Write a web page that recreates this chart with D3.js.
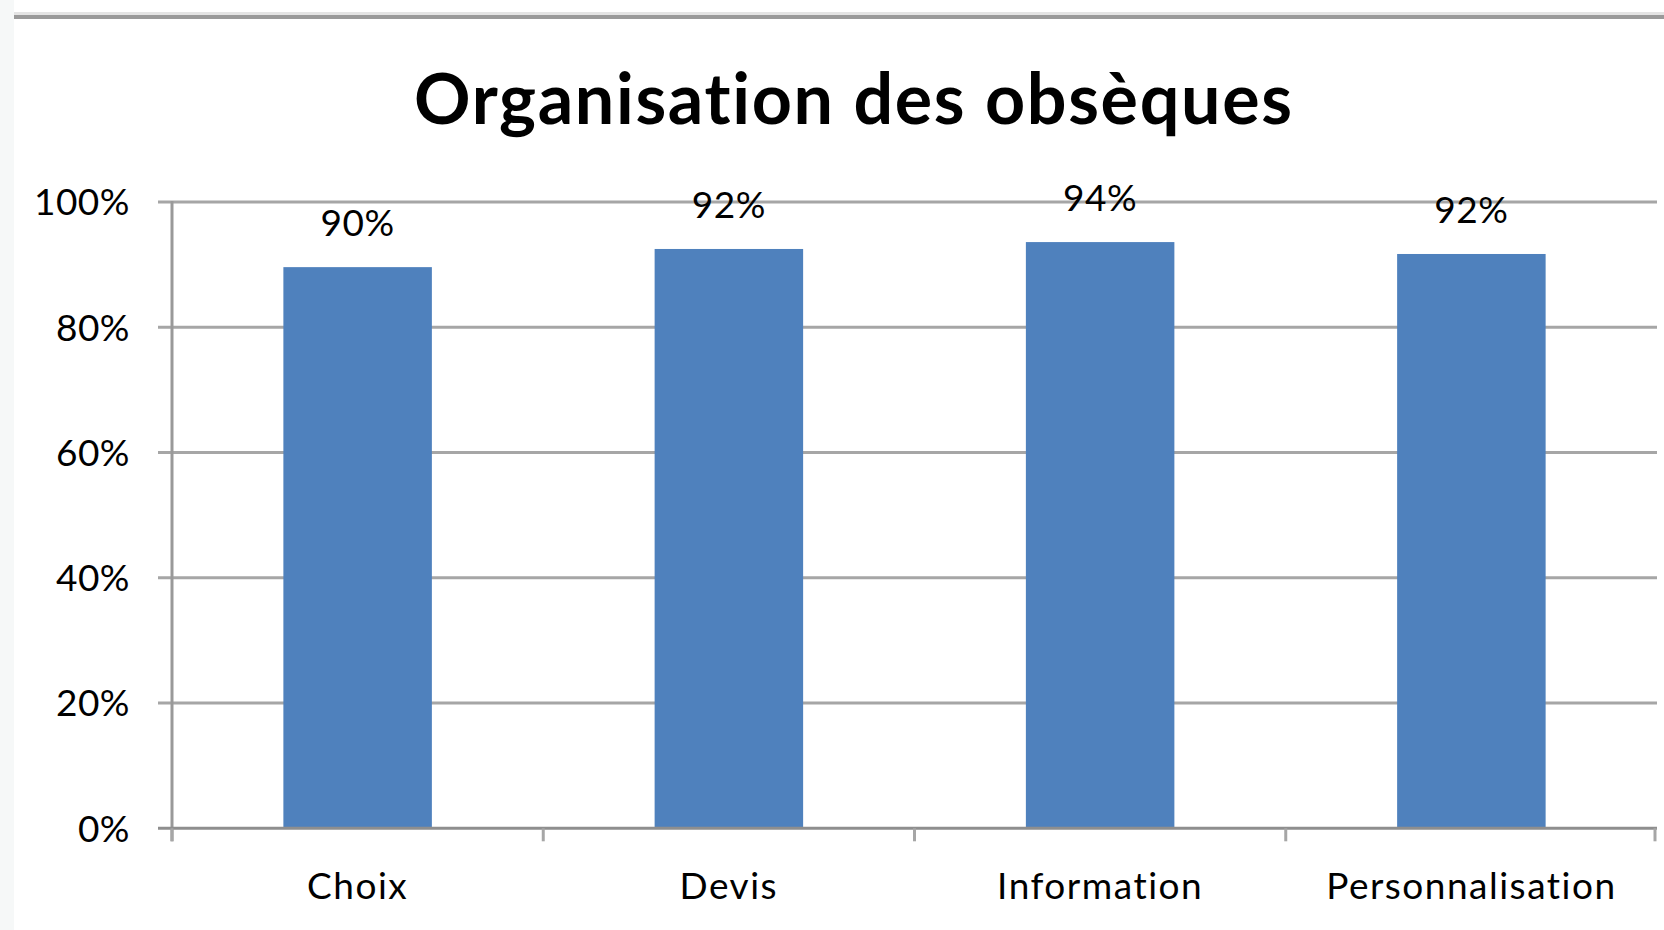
<!DOCTYPE html>
<html>
<head>
<meta charset="utf-8">
<script src="https://cdn.jsdelivr.net/npm/d3@7"></script>
<style>
    html, body { margin: 0; padding: 0; background: #fff; }
    svg { display: block; }
    text { font-family: Lato, "Open Sans", sans-serif; fill: #000; font-variant-ligatures: none; }
</style>
</head>
<body>
<div id="chart"></div>
<script>
var TITLE = "Organisation des obsèques";
var categories = ["Choix", "Devis", "Information", "Personnalisation"];
var values = [0.896, 0.925, 0.936, 0.917];
var valueLabels = ["90%", "92%", "94%", "92%"];
var yTicks = [0, 0.2, 0.4, 0.6, 0.8, 1.0];

var WIDTH = 1664,
    HEIGHT = 930,
    LEFT = 172,
    RIGHT = 1657,
    TOP = 202,
    BOTTOM = 828.3,
    FONT_SIZE = 37;

var svg = d3.select("#chart")
    .append("svg")
    .attr("width", WIDTH)
    .attr("height", HEIGHT);

// Frame left over from the original screenshot.
svg.append("rect").attr("x", 0).attr("y", 0).attr("width", 14).attr("height", HEIGHT).attr("fill", "#f6f8f8");
svg.append("rect").attr("x", 14).attr("y", 12).attr("width", WIDTH - 14).attr("height", 3).attr("fill", "#e4e4e4");
svg.append("rect").attr("x", 14).attr("y", 15).attr("width", WIDTH - 14).attr("height", 4).attr("fill", "#9a9a9a");

var x = d3.scaleBand()
    .domain(categories)
    .range([LEFT, RIGHT])
    .paddingInner(0.6)
    .paddingOuter(0.3);

var y = d3.scaleLinear()
    .domain([0, 1])
    .range([BOTTOM, TOP]);

var pct = d3.format(".0%");

// Gridlines
svg.append("g")
    .selectAll("line")
    .data(yTicks.filter(function(d) { return d > 0; }))
    .enter()
    .append("line")
    .attr("x1", LEFT - 14)
    .attr("x2", RIGHT)
    .attr("y1", function(d) { return y(d); })
    .attr("y2", function(d) { return y(d); })
    .attr("stroke", "#a6a6a6")
    .attr("stroke-width", 3);

// Y tick labels
svg.append("g")
    .selectAll("text")
    .data(yTicks)
    .enter()
    .append("text")
    .attr("x", 130)
    .attr("y", function(d) { return y(d); })
    .attr("dy", "0.36em")
    .attr("text-anchor", "end")
    .style("font-size", FONT_SIZE + "px")
    .style("letter-spacing", "0.5px")
    .text(pct);

// Bars
svg.append("g")
    .selectAll("rect")
    .data(values)
    .enter()
    .append("rect")
    .attr("x", function(d, i) { return x(categories[i]); })
    .attr("y", function(d) { return y(d); })
    .attr("width", x.bandwidth())
    .attr("height", function(d) { return y(0) - y(d); })
    .attr("fill", "#4f81bd");

// Axes
svg.append("line")
    .attr("x1", LEFT).attr("x2", LEFT)
    .attr("y1", TOP - 1).attr("y2", BOTTOM + 13)
    .attr("stroke", "#999").attr("stroke-width", 3);

svg.append("line")
    .attr("x1", LEFT - 14).attr("x2", RIGHT)
    .attr("y1", BOTTOM).attr("y2", BOTTOM)
    .attr("stroke", "#8e8e8e").attr("stroke-width", 3);

svg.append("g")
    .selectAll("line")
    .data(d3.range(categories.length + 1))
    .enter()
    .append("line")
    .attr("x1", function(i) { return LEFT + i * x.step() - (i === categories.length ? 2 : 0); })
    .attr("x2", function(i) { return LEFT + i * x.step() - (i === categories.length ? 2 : 0); })
    .attr("y1", BOTTOM)
    .attr("y2", BOTTOM + 13)
    .attr("stroke", "#a6a6a6")
    .attr("stroke-width", 3);

// Category labels
svg.append("g")
    .selectAll("text")
    .data(categories)
    .enter()
    .append("text")
    .attr("x", function(d) { return x(d) + x.bandwidth() / 2; })
    .attr("y", 899)
    .attr("text-anchor", "middle")
    .style("font-size", FONT_SIZE + "px")
    .style("letter-spacing", "1.5px")
    .text(function(d) { return d; });

// Value labels
svg.append("g")
    .selectAll("text")
    .data(values)
    .enter()
    .append("text")
    .attr("x", function(d, i) { return x(categories[i]) + x.bandwidth() / 2; })
    .attr("y", function(d) { return y(d) - 31; })
    .attr("text-anchor", "middle")
    .style("font-size", FONT_SIZE + "px")
    .style("letter-spacing", "0.5px")
    .text(function(d, i) { return valueLabels[i]; });

// Title
var title = svg.append("text")
    .attr("x", 853)
    .attr("y", 124)
    .attr("text-anchor", "middle")
    .style("font-size", "70px")
    .style("font-weight", "bold")
    .text(TITLE);

var w = title.node().getComputedTextLength();
if (Math.abs(w - 878) / 878 < 0.12) {
    title.attr("textLength", 878).attr("lengthAdjust", "spacing");
}
</script>
</body>
</html>
